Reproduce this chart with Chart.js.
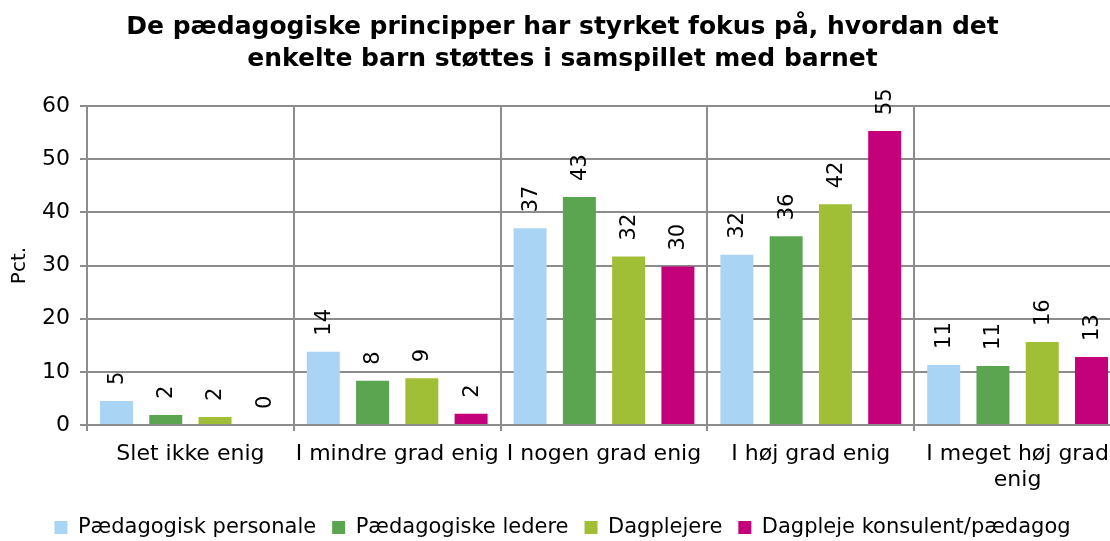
<!DOCTYPE html>
<html>
<head>
<meta charset="utf-8">
<script src="https://cdn.jsdelivr.net/npm/chart.js@4.4.1/dist/chart.umd.min.js"></script>
<style>
  html, body { margin: 0; padding: 0; background: #fff; overflow: hidden; }
  #wrap { width: 1122px; height: 541px; }
</style>
</head>
<body>
<div id="wrap"><canvas id="chart"></canvas></div>
<script>
const categories = ['Slet ikke enig', 'I mindre grad enig', 'I nogen grad enig', 'I høj grad enig', ['I meget høj grad', 'enig']];
const seriesNames = ['Pædagogisk personale', 'Pædagogiske ledere', 'Dagplejere', 'Dagpleje konsulent/pædagog'];
const personale = [4.5, 13.8, 37.0, 32.0, 11.3];
const ledere = [1.9, 8.3, 42.9, 35.5, 11.1];
const dagplejere = [1.5, 8.8, 31.7, 41.5, 15.6];
const konsulent = [0, 2.1, 29.8, 55.3, 12.8];
const colors = ['#A9D4F4', '#5CA550', '#A1BE37', '#C4007A'];
const yTicks = [0, 10, 20, 30, 40, 50, 60];

const FONT = 'DejaVu Sans, Verdana, sans-serif';

// Lodrette værdietiketter over søjlerne
const barLabels = {
  id: 'barLabels',
  afterDatasetsDraw(chart) {
    const ctx = chart.ctx;
    ctx.save();
    ctx.font = '21px ' + FONT;
    ctx.fillStyle = '#000';
    ctx.textAlign = 'left';
    ctx.textBaseline = 'middle';
    chart.data.datasets.forEach((ds, i) => {
      const meta = chart.getDatasetMeta(i);
      meta.data.forEach((bar, j) => {
        ctx.save();
        ctx.translate(bar.x, bar.y - 16);
        ctx.rotate(-Math.PI / 2);
        ctx.fillText(Math.round(ds.data[j]), 0, 1);
        ctx.restore();
      });
    });
    ctx.restore();
  }
};

const allData = [personale, ledere, dagplejere, konsulent];

new Chart(document.getElementById('chart'), {
  type: 'bar',
  data: {
    labels: categories,
    datasets: allData.map((d, i) => ({
      label: seriesNames[i],
      data: d,
      backgroundColor: colors[i],
      categoryPercentage: 0.953,
      barPercentage: 0.67
    }))
  },
  options: {
    responsive: true,
    maintainAspectRatio: false,
    animation: false,
    layout: { padding: { left: 4, right: 1, top: 0, bottom: 0 } },
    scales: {
      x: {
        grid: { color: '#8c8c8c', lineWidth: 2, offset: true, tickLength: 6 },
        border: { color: '#8c8c8c', width: 2 },
        ticks: { color: '#000', font: { family: FONT, size: 22, lineHeight: 1.2 }, maxRotation: 0, autoSkip: false, padding: 10 },
        afterFit: scale => { scale.height = 76; }
      },
      y: {
        min: 0,
        max: 60,
        afterBuildTicks: axis => { axis.ticks = yTicks.map(v => ({ value: v })); },
        grid: { color: '#8c8c8c', lineWidth: 2, tickLength: 7 },
        border: { color: '#8c8c8c', width: 2 },
        ticks: { color: '#000', font: { family: FONT, size: 22 }, padding: 10 },
        title: { display: true, text: 'Pct.', color: '#000', font: { family: FONT, size: 20, lineHeight: 1.2 }, padding: { top: 4, bottom: 0 } }
      }
    },
    plugins: {
      title: {
        display: true,
        text: ['De pædagogiske principper har styrket fokus på, hvordan det', 'enkelte barn støttes i samspillet med barnet'],
        color: '#000',
        font: { family: FONT, size: 25, weight: 'bold', lineHeight: 1.28 },
        padding: { top: 11, bottom: 31 }
      },
      legend: {
        position: 'bottom',
        maxHeight: 40,
        labels: {
          color: '#000',
          font: { family: FONT, size: 21 },
          boxWidth: 13,
          boxHeight: 13,
          padding: 16
        }
      },
      tooltip: { enabled: false }
    }
  },
  plugins: [barLabels]
});
</script>
</body>
</html>
